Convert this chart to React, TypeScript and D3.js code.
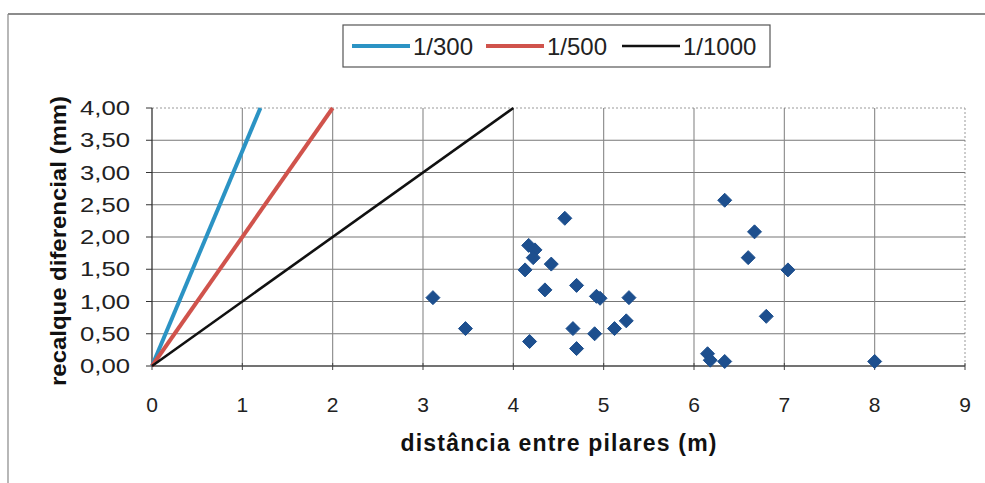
import React from "react";
import * as d3 from "d3";

// Limit lines: angular distortion criteria (recalque / distância)
const limitNames = ["1/300", "1/500", "1/1000"];
const limitRatios = [300, 500, 1000];
const limitColors = ["#2b93c4", "#d0534c", "#111111"];
const limitWidths = [4, 4, 2.6];

// Measured pairs: distance between columns (m) and differential settlement (mm)
const distancias = [
  3.11, 3.47, 4.17, 4.24, 4.22, 4.13, 4.42, 4.35, 4.57, 4.18, 4.7, 4.66, 4.7,
  4.92, 4.96, 4.9, 5.12, 5.25, 5.28, 6.34, 6.67, 6.6, 7.04, 6.8, 6.15, 6.18,
  6.34, 8.0,
];
const recalques = [
  1.06, 0.58, 1.87, 1.8, 1.68, 1.49, 1.58, 1.18, 2.29, 0.38, 1.25, 0.58, 0.27,
  1.08, 1.05, 0.5, 0.58, 0.7, 1.06, 2.57, 2.08, 1.68, 1.49, 0.77, 0.19, 0.09,
  0.07, 0.07,
];

const xTicks = [0, 1, 2, 3, 4, 5, 6, 7, 8, 9];
const yTicks = [0, 0.5, 1, 1.5, 2, 2.5, 3, 3.5, 4];

const W = 985;
const H = 483;
const left = 152;
const right = 965;
const top = 108;
const bottom = 366;

export default function App() {
  const x = d3.scaleLinear().domain([0, 9]).range([left, right]);
  const y = d3.scaleLinear().domain([0, 4]).range([bottom, top]);
  const fmt = (v: number) => d3.format(".2f")(v).replace(".", ",");
  const line = d3
    .line<[number, number]>()
    .x((d) => x(d[0]))
    .y((d) => y(d[1]));
  // square marker turned 45°
  const r = 7;
  const diamond = `M0,${-r}L${r},0L0,${r}L${-r},0Z`;
  const font = "Arial, 'Liberation Sans', sans-serif";

  // legend layout
  const legX = [352, 486, 622];

  return (
    <svg
      width={W}
      height={H}
      style={{ position: "absolute", left: 0, top: 0, background: "#fff" }}
      fontFamily={font}
    >
      {/* chart frame */}
      <line x1={8} x2={W} y1={14} y2={14} stroke="#666" strokeWidth={1.5} />
      <line x1={8} x2={8} y1={14} y2={H} stroke="#888" strokeWidth={1.2} />

      {/* plot area border (dotted) */}
      <line x1={left} x2={right} y1={top} y2={top} stroke="#999" strokeDasharray="2,2" />
      <line x1={right} x2={right} y1={top} y2={bottom} stroke="#999" strokeDasharray="2,2" />

      {/* gridlines */}
      {yTicks.slice(1, -1).map((t) => (
        <line key={"gy" + t} x1={left} x2={right} y1={y(t)} y2={y(t)} stroke="#777" strokeWidth={1.1} />
      ))}
      {xTicks.slice(1, -1).map((t) => (
        <line key={"gx" + t} x1={x(t)} x2={x(t)} y1={top} y2={bottom} stroke="#888" strokeWidth={1.1} />
      ))}

      {/* axes */}
      <line x1={left} x2={left} y1={top} y2={bottom} stroke="#333" strokeWidth={1.3} />
      <line x1={left} x2={right} y1={bottom} y2={bottom} stroke="#444" strokeWidth={1.5} />
      {yTicks.map((t) => (
        <g key={"yt" + t}>
          <line x1={left - 6} x2={left} y1={y(t)} y2={y(t)} stroke="#333" />
          <text
            x={130}
            y={y(t)}
            dy="0.36em"
            textAnchor="end"
            fontSize={20}
            textLength={50}
            lengthAdjust="spacingAndGlyphs"
            fill="#222"
          >
            {fmt(t)}
          </text>
        </g>
      ))}
      {xTicks.map((t) => (
        <g key={"xt" + t}>
          <line x1={x(t)} x2={x(t)} y1={bottom - 3} y2={bottom + 4} stroke="#444" />
          <text x={x(t)} y={412} textAnchor="middle" fontSize={21} fill="#222">
            {t}
          </text>
        </g>
      ))}

      {/* axis titles */}
      <text
        x={(left + right) / 2}
        y={451}
        textAnchor="middle"
        fontSize={23}
        fontWeight="bold"
        textLength={316}
        lengthAdjust="spacing"
        fill="#111"
      >
        distância entre pilares (m)
      </text>
      <text
        transform={`translate(66, ${241}) rotate(-90)`}
        textAnchor="middle"
        fontSize={22}
        fontWeight="bold"
        fill="#111"
        textLength={290}
        lengthAdjust="spacingAndGlyphs"
      >
        recalque diferencial (mm)
      </text>

      {/* limit lines */}
      {limitRatios.map((ratio, i) => {
        const k = 1000 / ratio;
        const xEnd = 4 / k;
        return (
          <path
            key={"lim" + ratio}
            d={line([
              [0, 0],
              [xEnd, 4],
            ]) || ""}
            fill="none"
            stroke={limitColors[i]}
            strokeWidth={limitWidths[i]}
          />
        );
      })}

      {/* observations */}
      {distancias.map((d, i) => (
        <path
          key={"p" + i}
          d={diamond}
          transform={`translate(${x(d)},${y(recalques[i])})`}
          fill="#1d4f8e"
          stroke="#1d4f8e"
          strokeWidth={1}
          strokeLinejoin="round"
        />
      ))}

      {/* legend */}
      <rect x={343} y={25} width={427} height={42} fill="#fff" stroke="#555" strokeWidth={1.2} />
      {limitNames.map((n, i) => (
        <g key={"lg" + n}>
          <line
            x1={legX[i]}
            x2={legX[i] + 58}
            y1={46}
            y2={46}
            stroke={limitColors[i]}
            strokeWidth={limitWidths[i]}
          />
          <text x={legX[i] + 61} y={46} dy="0.36em" fontSize={24} fill="#222">
            {n}
          </text>
        </g>
      ))}
    </svg>
  );
}
